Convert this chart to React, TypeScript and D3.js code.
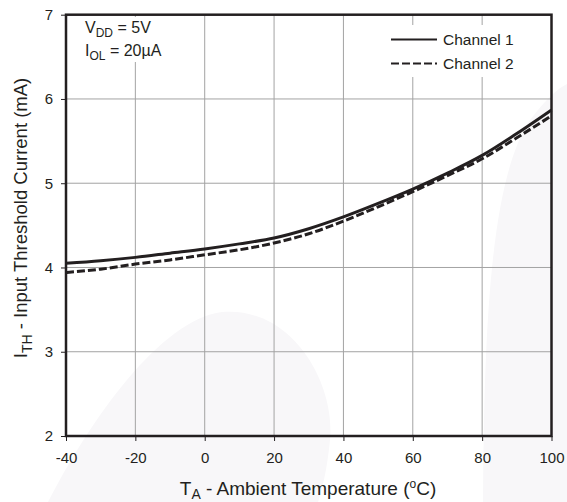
import React, { useRef, useEffect } from 'react';
import * as d3 from 'd3';

// temperature (°C) and threshold current (mA)
const temps = [-40, -30, -20, -10, 0, 10, 20, 30, 40, 50, 60, 70, 80, 90, 100];
const channel1 = [4.05, 4.08, 4.12, 4.17, 4.22, 4.28, 4.35, 4.46, 4.6, 4.76, 4.93, 5.12, 5.33, 5.59, 5.87];
const channel2 = [3.94, 3.98, 4.04, 4.09, 4.15, 4.21, 4.29, 4.4, 4.55, 4.72, 4.9, 5.09, 5.29, 5.54, 5.8];
const xTicks = [-40, -20, 0, 20, 40, 60, 80, 100];
const yTicks = [2, 3, 4, 5, 6, 7];
const seriesNames = ['Channel 1', 'Channel 2'];

const width = 567;
const height = 502;
const ink = '#231f20';
const font = '"Liberation Sans", Arial, Helvetica, sans-serif';

const App: React.FC = () => {
  const ref = useRef<SVGSVGElement | null>(null);

  useEffect(() => {
    if (!ref.current) return;
    const svg = d3.select(ref.current);
    svg.selectAll('*').remove();

    const margin = { top: 14.7, right: 15.5, bottom: 66, left: 66 };
    const x = d3.scaleLinear().domain([-40, 100]).range([margin.left, width - margin.right]);
    const y = d3.scaleLinear().domain([2, 7]).range([height - margin.bottom, margin.top]);

    svg.append('rect').attr('width', width).attr('height', height).attr('fill', '#fff');

    // faint watermark shapes behind the chart
    svg.append('path')
      .attr('d', 'M48,502 C90,420 160,320 222,312 C290,306 335,380 330,440 C327,470 322,490 318,502 Z')
      .attr('fill', '#f8f7f9');
    svg.append('path')
      .attr('d', 'M483,502 C484,330 490,180 530,120 C545,100 558,88 567,84 L567,502 Z')
      .attr('fill', '#f8f7f9');

    // grid
    const grid = svg.append('g').attr('stroke', '#a3a3a3').attr('stroke-width', 1);
    grid.selectAll('line.v')
      .data(xTicks.slice(1, -1))
      .enter()
      .append('line')
      .attr('x1', d => x(d)).attr('x2', d => x(d))
      .attr('y1', y(7)).attr('y2', y(2));
    grid.selectAll('line.h')
      .data(yTicks.slice(1, -1))
      .enter()
      .append('line')
      .attr('x1', x(-40)).attr('x2', x(100))
      .attr('y1', d => y(d)).attr('y2', d => y(d));

    // white boxes behind the notes and legend
    svg.append('rect').attr('x', 80).attr('y', 17).attr('width', 95).attr('height', 45).attr('fill', '#fff');
    svg.append('rect').attr('x', 385).attr('y', 25).attr('width', 160).attr('height', 52).attr('fill', '#fff');

    // axes ticks and labels
    const fmt = (d: d3.NumberValue) => String(d);
    const xAxis = d3.axisBottom(x).tickValues(xTicks).tickSize(5).tickPadding(11).tickFormat(fmt);
    const yAxis = d3.axisLeft(y).tickValues(yTicks).tickSize(5).tickPadding(8).tickFormat(fmt);
    const gx = svg.append('g').attr('transform', `translate(0,${y(2)})`).call(xAxis);
    const gy = svg.append('g').attr('transform', `translate(${x(-40)},0)`).call(yAxis);
    [gx, gy].forEach(g => {
      g.select('.domain').remove();
      g.selectAll('line').attr('stroke', ink).attr('stroke-width', 1);
      g.selectAll('text').attr('fill', ink).style('font-family', font).style('font-size', '15px');
    });

    // curves
    const line = d3.line<number>()
      .x((_, i) => x(temps[i]))
      .y(d => y(d))
      .curve(d3.curveMonotoneX);

    svg.append('path')
      .datum(channel1)
      .attr('fill', 'none')
      .attr('stroke', ink)
      .attr('stroke-width', 3)
      .attr('d', line);

    svg.append('path')
      .datum(channel2)
      .attr('fill', 'none')
      .attr('stroke', ink)
      .attr('stroke-width', 3)
      .attr('stroke-dasharray', '8,3')
      .attr('d', line);

    // frame
    svg.append('rect')
      .attr('x', x(-40)).attr('y', y(7))
      .attr('width', x(100) - x(-40)).attr('height', y(2) - y(7))
      .attr('fill', 'none')
      .attr('stroke', ink)
      .attr('stroke-width', 2.5);

    // legend
    const legend = svg.append('g').style('font-family', font).style('font-size', '15.5px').attr('fill', ink);
    seriesNames.forEach((name, i) => {
      const ly = 39.5 + i * 24;
      legend.append('line')
        .attr('x1', 391).attr('x2', 437)
        .attr('y1', ly).attr('y2', ly)
        .attr('stroke', ink)
        .attr('stroke-width', 2)
        .attr('stroke-dasharray', i === 1 ? '8,3' : null);
      legend.append('text').attr('x', 443).attr('y', ly + 5.5).text(name);
    });

    // conditions note
    const note = svg.append('g').style('font-family', font).style('font-size', '16px').attr('fill', ink);
    const t1 = note.append('text').attr('x', 85).attr('y', 33);
    t1.append('tspan').text('V');
    t1.append('tspan').attr('dy', 4).style('font-size', '12px').text('DD');
    t1.append('tspan').attr('dy', -4).text(' = 5V');
    const t2 = note.append('text').attr('x', 85).attr('y', 56);
    t2.append('tspan').text('I');
    t2.append('tspan').attr('dy', 4).style('font-size', '12px').text('OL');
    t2.append('tspan').attr('dy', -4).text(' = 20\u00b5A');

    // axis titles
    const xt = svg.append('text')
      .attr('x', 308)
      .attr('y', 494.5)
      .attr('text-anchor', 'middle')
      .attr('fill', ink)
      .style('font-family', font)
      .style('font-size', '19px');
    xt.append('tspan').text('T');
    xt.append('tspan').attr('dy', 4).style('font-size', '14px').text('A');
    xt.append('tspan').attr('dy', -4).text(' - Ambient Temperature (');
    xt.append('tspan').attr('dy', -7).style('font-size', '12px').text('o');
    xt.append('tspan').attr('dy', 7).text('C)');

    const yt = svg.append('text')
      .attr('transform', `translate(27,218) rotate(-90)`)
      .attr('text-anchor', 'middle')
      .attr('fill', ink)
      .style('font-family', font)
      .style('font-size', '18.5px');
    yt.append('tspan').text('I');
    yt.append('tspan').attr('dy', 5).style('font-size', '14px').text('TH');
    yt.append('tspan').attr('dy', -5).text(' - Input Threshold Current (mA)');
  }, []);

  return (
    <svg
      ref={ref}
      width={width}
      height={height}
      style={{ position: 'absolute', left: 0, top: 0 }}
    />
  );
};

export default App;
